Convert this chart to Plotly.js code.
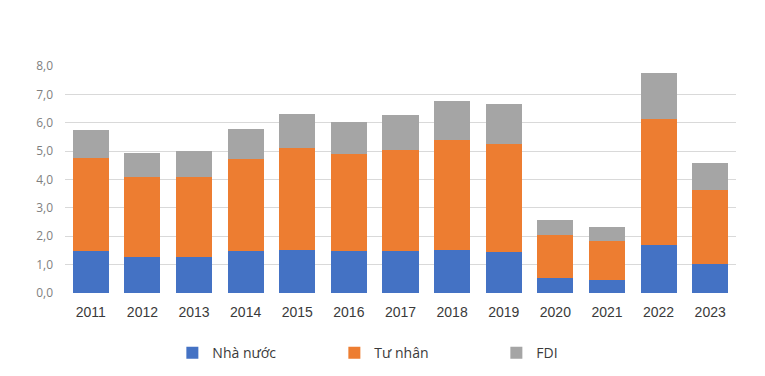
<!DOCTYPE html>
<html>
<head>
<meta charset="utf-8">
<script src="https://cdn.plot.ly/plotly-3.0.1.min.js"></script>
<style>html,body{margin:0;padding:0;background:#fff;}#chart{width:765px;height:376px;}</style>
</head>
<body>
<div id="chart"></div>
<script>
const years = ["2011","2012","2013","2014","2015","2016","2017","2018","2019","2020","2021","2022","2023"];
const nhaNuoc = [1.49,1.27,1.27,1.48,1.53,1.48,1.48,1.50,1.45,0.53,0.47,1.69,1.01];
const tuNhan = [3.28,2.82,2.82,3.26,3.59,3.42,3.55,3.88,3.81,1.53,1.36,4.43,2.61];
const fdi = [0.96,0.86,0.91,1.05,1.19,1.13,1.23,1.38,1.39,0.50,0.49,1.63,0.96];
const yTicks = [0,1,2,3,4,5,6,7,8];

const traces = [
  {type:'bar', name:'Nhà nước', x:years, y:nhaNuoc, marker:{color:'#4472C4'}},
  {type:'bar', name:'Tư nhân', x:years, y:tuNhan, marker:{color:'#ED7D31'}},
  {type:'bar', name:'FDI', x:years, y:fdi, marker:{color:'#A5A5A5'}}
];
const layout = {
  width:765, height:376,
  margin:{l:65, r:29, t:66, b:83, autoexpand:false},
  barmode:'stack', bargap:0.30,
  separators:',.',
  paper_bgcolor:'#fff', plot_bgcolor:'#fff',
  font:{family:'Liberation Sans, Arial, sans-serif', color:'#595959', size:12},
  xaxis:{type:'category', automargin:false, tickfont:{size:14, color:'#3a3a3a'}, ticklabelstandoff:9, showgrid:false, zeroline:false, showline:false, ticks:''},
  yaxis:{range:[0,8], automargin:false, tickvals:yTicks, tickformat:'.1f', ticklabelstandoff:11, showgrid:true, gridcolor:'#D9D9D9', gridwidth:1, zeroline:false, showline:false, ticks:'', tickfont:{family:'Open Sans, sans-serif', size:12, color:'#7F7F7F'}},
  legend:{orientation:'h', x:0.16, xanchor:'left', yref:'container', y:0.103, yanchor:'top', font:{family:'Open Sans, sans-serif', size:14, color:'#3a3a3a'}, entrywidth:117, itemwidth:30, traceorder:'normal'},
  showlegend:true
};
Plotly.newPlot('chart', traces, layout, {displayModeBar:false, staticPlot:true});
</script>
</body>
</html>
